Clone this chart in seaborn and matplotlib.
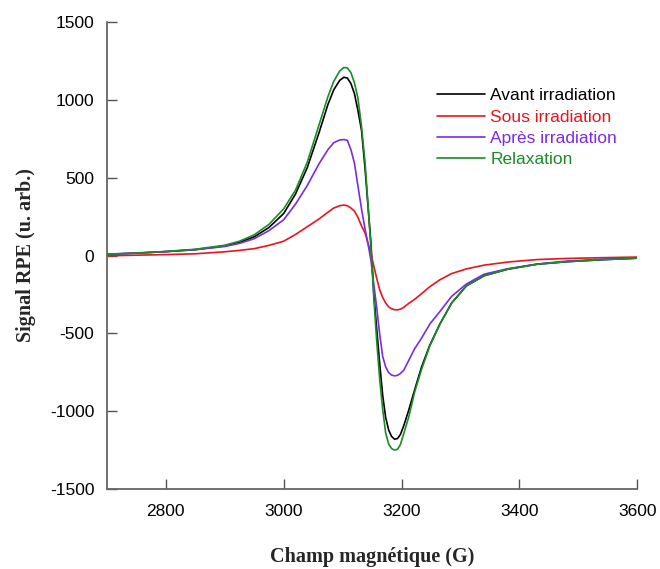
import numpy as np
import pandas as pd
import matplotlib
matplotlib.use("Agg")
import matplotlib.pyplot as plt
import seaborn as sns

# Magnetic field (G)
field = [2700, 2750, 2800, 2850, 2900, 2925, 2950, 2975, 3000, 3020,
         3040, 3060, 3075, 3085, 3095, 3102, 3108, 3114, 3120, 3126,
         3132, 3138, 3143, 3148, 3153, 3158, 3163, 3168, 3173, 3178,
         3183, 3188, 3193, 3198, 3204, 3212, 3222, 3234, 3248, 3265,
         3285, 3310, 3340, 3380, 3430, 3480, 3540, 3600]

avant = [8, 15, 25, 38, 62, 85, 120, 180, 270, 395,
         565, 790, 970, 1065, 1125, 1145, 1140, 1105, 1040, 930,
         805, 560, 320, 80, -250, -480, -700, -900, -1040, -1120,
         -1162, -1180, -1176, -1150, -1090, -995, -865, -715, -575, -440,
         -305, -195, -130, -88, -56, -40, -27, -17]

sous = [-2, 2, 6, 11, 24, 33, 44, 65, 92, 135,
        185, 235, 278, 305, 320, 324, 320, 305, 285, 245,
        190, 145, 80, 15, -70, -150, -222, -270, -305, -330,
        -342, -348, -349, -345, -332, -308, -282, -245, -200, -156,
        -116, -86, -62, -42, -26, -19, -14, -10]

apres = [8, 15, 25, 37, 58, 78, 108, 160, 230, 330,
         450, 590, 680, 725, 742, 745, 740, 680, 594, 445,
         300, 170, 75, -30, -190, -340, -510, -649, -715, -752,
         -768, -773, -770, -758, -735, -675, -600, -530, -440, -360,
         -262, -183, -120, -85, -55, -36, -24, -17]

relax = [9, 16, 26, 40, 66, 92, 133, 200, 300, 420,
         600, 840, 1020, 1120, 1185, 1208, 1205, 1175, 1110, 1010,
         830, 600, 330, 50, -280, -560, -800, -990, -1140, -1210,
         -1240, -1250, -1245, -1215, -1140, -1040, -880, -730, -580, -442,
         -305, -195, -130, -88, -56, -40, -27, -17]

labels = ["Avant irradiation", "Sous irradiation", "Après irradiation", "Relaxation"]
colors = ["#000000", "#e8141e", "#7a2be6", "#1a8c28"]

x_ticks = [2800, 3000, 3200, 3400, 3600]
y_ticks = [-1500, -1000, -500, 0, 500, 1000, 1500]

frames = []
for lab, vals in zip(labels, [avant, sous, apres, relax]):
    frames.append(pd.DataFrame({"field": field, "signal": vals, "series": lab}))
df = pd.concat(frames, ignore_index=True)

sns.set_style("white")
plt.rcParams["font.family"] = ["Liberation Sans", "DejaVu Sans"]
plt.rcParams["axes.unicode_minus"] = False

fig = plt.figure(figsize=(6.6, 5.69), dpi=100)
ax = fig.add_axes([0.162, 0.1406, 0.8036, 0.8207])

sns.lineplot(data=df, x="field", y="signal", hue="series",
             palette=dict(zip(labels, colors)), hue_order=labels,
             linewidth=1.2, ax=ax, sort=False, estimator=None)

ax.set_xlim(2700, 3600)
ax.set_ylim(-1500, 1500)
ax.set_xticks(x_ticks)
ax.set_yticks(y_ticks)
ax.tick_params(axis="both", direction="in", length=7, width=1, color="#555555",
               labelsize=12.5, labelcolor="black", bottom=True, left=True)
ax.tick_params(axis="y", pad=9)
ax.tick_params(axis="x", pad=11)
for s in ["top", "right"]:
    ax.spines[s].set_visible(False)
for s in ["left", "bottom"]:
    ax.spines[s].set_color("#666666")
    ax.spines[s].set_linewidth(1.3)

ax.set_xlabel("Champ magnétique (G)", fontsize=14.5, fontweight="bold",
              family=["Liberation Serif", "DejaVu Serif"], labelpad=20)
ax.set_ylabel("Signal RPE (u. arb.)", fontsize=14.5, fontweight="bold",
              family=["Liberation Serif", "DejaVu Serif"], labelpad=10)

handles, labs = ax.get_legend_handles_labels()
leg = ax.legend(handles, labs, loc="upper left", bbox_to_anchor=(0.623, 0.858),
                frameon=False, fontsize=12.5, handlelength=2.75, handletextpad=0.3,
                labelspacing=0.35, borderpad=0, borderaxespad=0,
                labelcolor="linecolor")

fig.savefig("out.png", dpi=100)
